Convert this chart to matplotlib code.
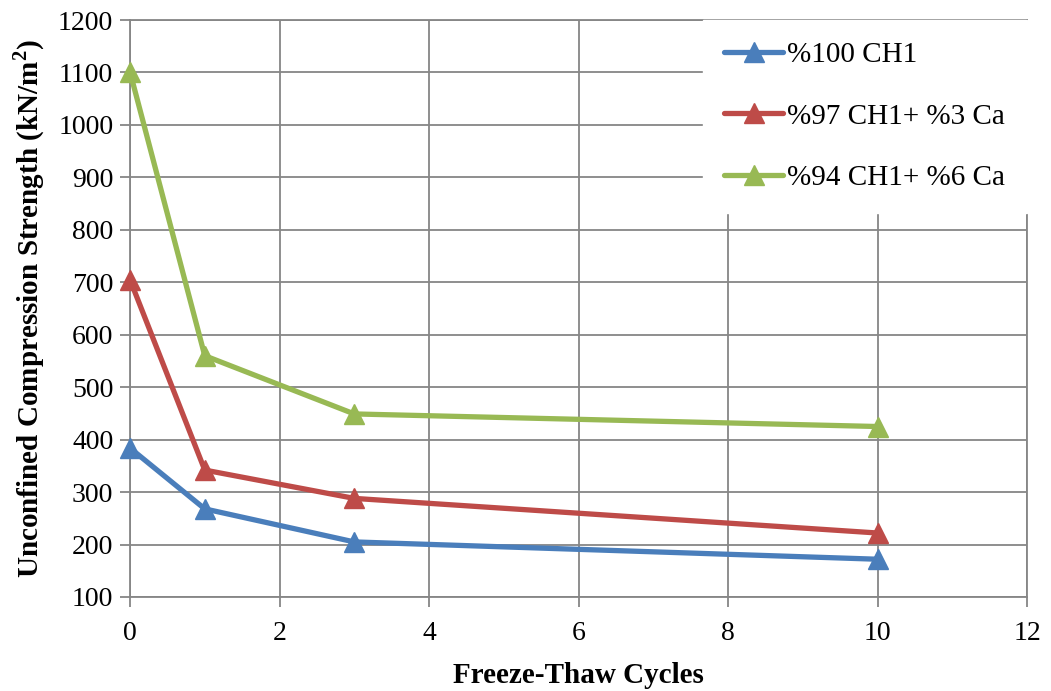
import matplotlib
matplotlib.use("Agg")
import matplotlib.pyplot as plt

cycles = [0, 1, 3, 10]
ch1_100 = [384, 268, 205, 172]
ch1_97_ca3 = [705, 342, 288, 222]
ch1_94_ca6 = [1101, 560, 449, 425]

series_labels = ["%100 CH1", "%97 CH1+ %3 Ca", "%94 CH1+ %6 Ca"]
series_colors = ["#4A7EBB", "#BE4B48", "#98B954"]

x_ticks = [0, 2, 4, 6, 8, 10, 12]
y_ticks = [100, 200, 300, 400, 500, 600, 700, 800, 900, 1000, 1100, 1200]

plt.rcParams["font.family"] = ["Liberation Serif", "DejaVu Serif"]

fig = plt.figure(figsize=(10.51, 6.91), dpi=100)
ax = fig.add_axes([130 / 1051, 94 / 691, 897 / 1051, 577 / 691])

for vals, lab, col in zip([ch1_100, ch1_97_ca3, ch1_94_ca6], series_labels, series_colors):
    ax.plot(cycles, vals, color=col, lw=3.8, marker="^", ms=14,
            markeredgecolor=col, markerfacecolor=col, label=lab,
            solid_capstyle="round", clip_on=False, zorder=3)

ax.set_xlim(0, 12)
ax.set_ylim(100, 1200)
ax.set_xticks(x_ticks)
ax.set_yticks(y_ticks)
ax.tick_params(axis="both", labelsize=20, color="#868686", length=7, width=1.3,
               direction="out")
ax.tick_params(axis="x", pad=10)
ax.tick_params(axis="y", pad=5)
ax.grid(True, color="#868686", lw=1.3)
ax.set_axisbelow(True)
for s in ax.spines.values():
    s.set_color("#868686")
    s.set_linewidth(1.3)

ax.set_xlabel("Freeze-Thaw Cycles", fontsize=21, fontweight="bold", labelpad=12)
ax.set_ylabel("Unconfined Compression Strength (kN/m$^\\mathregular{2}$)",
              fontsize=21, fontweight="bold", labelpad=8)

leg = ax.legend(loc="upper right", fontsize=21, frameon=True, fancybox=False,
                edgecolor="white", facecolor="white", framealpha=1,
                handlelength=2.0, handletextpad=0.15, labelspacing=1.2,
                borderpad=0.75, borderaxespad=0.0)
leg.set_zorder(5)

fig.savefig("out.png", dpi=100)
